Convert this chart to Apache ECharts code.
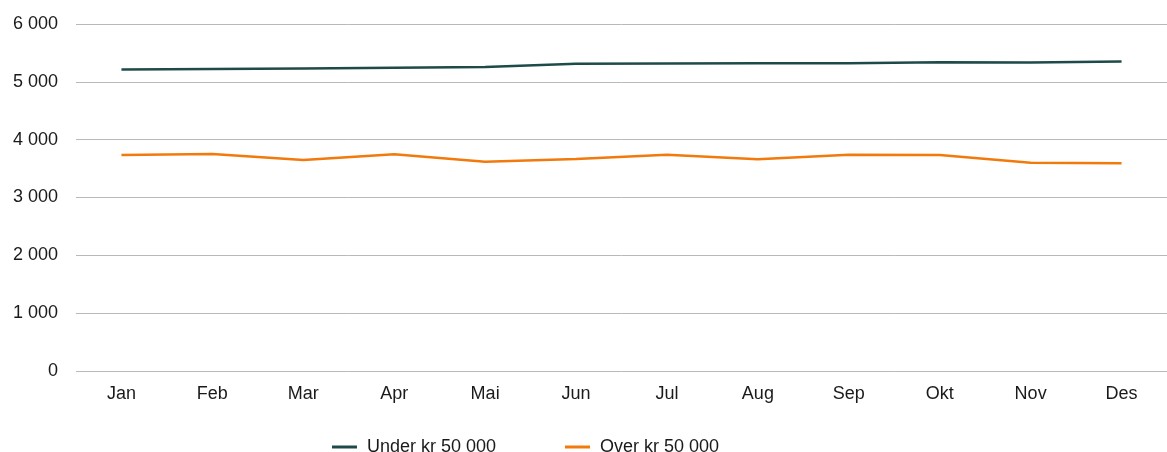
<!DOCTYPE html>
<html>
<head>
<meta charset="utf-8">
<script src="https://cdn.jsdelivr.net/npm/echarts@6/dist/echarts.min.js"></script>
<style>
  html, body { margin: 0; padding: 0; background: #ffffff; }
  #chart { width: 1167px; height: 452px; }
</style>
</head>
<body>
<div id="chart"></div>
<script>
// Months (Norwegian)
const months = ['Jan', 'Feb', 'Mar', 'Apr', 'Mai', 'Jun', 'Jul', 'Aug', 'Sep', 'Okt', 'Nov', 'Des'];

// Series names
const nameUnder = 'Under kr 50 000';
const nameOver = 'Over kr 50 000';

// Monthly values
const underValues = [5214, 5222, 5231, 5243, 5257, 5314, 5318, 5320, 5323, 5338, 5335, 5352];
const overValues = [3735, 3752, 3649, 3747, 3619, 3664, 3740, 3660, 3740, 3735, 3602, 3594];

// Y axis range
const yMin = 0;
const yMax = 6000;
const yStep = 1000;

// Thousands separated by a space
function fmtNumber(v) {
  return String(v).replace(/\B(?=(\d{3})+(?!\d))/g, ' ');
}

const FONT = 'Liberation Sans, Arial, Helvetica, sans-serif';
const TEXT = '#1a1a1a';
const FS = 18;

const legendBase = {
  top: 438,
  padding: 0,
  itemWidth: 25,
  itemHeight: 3,
  icon: 'rect',
  textStyle: { fontFamily: FONT, fontSize: FS, color: TEXT, padding: [0, 0, 0, 5] }
};

const chart = echarts.init(document.getElementById('chart'), null, { renderer: 'canvas' });

chart.setOption({
  animation: false,
  backgroundColor: '#ffffff',
  textStyle: { fontFamily: FONT },
  grid: {
    left: 76,
    top: 24,
    bottom: 81,
    width: 1102,
    containLabel: false
  },
  legend: [
    Object.assign({}, legendBase, { left: 332, data: [nameUnder] }),
    Object.assign({}, legendBase, { left: 565, data: [nameOver] })
  ],
  xAxis: {
    type: 'category',
    data: months,
    boundaryGap: true,
    axisLine: { show: false },
    axisTick: { show: false },
    axisLabel: { fontFamily: FONT, fontSize: FS, color: TEXT, margin: 14 }
  },
  yAxis: {
    type: 'value',
    min: yMin,
    max: yMax,
    interval: yStep,
    axisLine: { show: false },
    axisTick: { show: false },
    axisLabel: {
      fontFamily: FONT, fontSize: FS, color: TEXT, margin: 18,
      formatter: fmtNumber
    },
    splitLine: { lineStyle: { color: '#b9b9b9', width: 1 } }
  },
  series: [
    {
      name: nameUnder,
      type: 'line',
      data: underValues,
      symbol: 'none',
      color: '#1e4b4a',
      lineStyle: { width: 2.5, color: '#1e4b4a' }
    },
    {
      name: nameOver,
      type: 'line',
      data: overValues,
      symbol: 'none',
      color: '#f27a0c',
      lineStyle: { width: 2.5, color: '#f27a0c' }
    }
  ]
});
</script>
</body>
</html>
